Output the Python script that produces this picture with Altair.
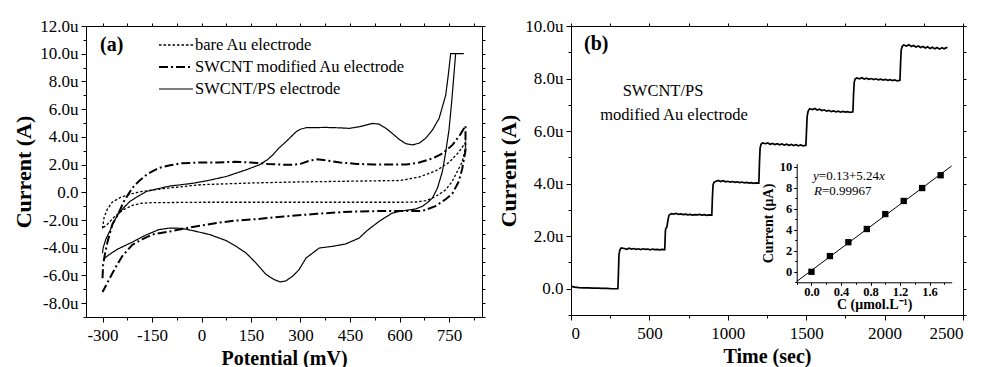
import altair as alt
import pandas as pd

FONT = "Liberation Serif"

# ---------------- Panel (a): cyclic voltammograms ----------------
series_names = ["bare Au electrode", "SWCNT modified Au electrode", "SWCNT/PS electrode"]

bare_e = [-300, -295, -285, -270, -244, -210, -184, -103, 0, 150, 300, 450, 600, 660, 710, 750, 780, 800,
          800, 790, 775, 760, 740, 720, 700, 680, 650, 600, 300, 0, -150, -184, -210, -240, -265, -285, -300]
bare_i = [-2.6, -1.8, -1.2, -0.7, -0.35, -0.1, 0.05, 0.3, 0.55, 0.67, 0.75, 0.8, 0.85, 1.1, 1.55, 2.15, 2.9, 3.6,
          3.2, 2.2, 1.5, 0.8, 0.18, -0.15, -0.42, -0.6, -0.7, -0.72, -0.72, -0.72, -0.75, -0.8, -0.95, -1.3, -1.8, -2.3, -2.6]

swcnt_e = [-300, -298, -293, -285, -270, -253, -235, -210, -190, -165, -130, -95, -60, 0, 50, 100, 150, 200, 240,
           270, 300, 330, 350, 380, 420, 470, 520, 580, 620, 660, 700, 730, 760, 785, 800,
           800, 790, 780, 760, 740, 709, 669, 600, 550, 450, 350, 250, 150, 100, 50, 0, -50, -100, -150,
           -180, -210, -240, -260, -280, -300]
swcnt_i = [-6.2, -5.2, -4.5, -3.6, -2.3, -1.6, -0.65, 0.3, 0.8, 1.3, 1.75, 1.95, 2.1, 2.15, 2.15, 2.2, 2.15, 2.05, 2.0,
           1.98, 2.05, 2.3, 2.38, 2.3, 2.15, 2.05, 2.0, 2.0, 2.0, 2.15, 2.45, 2.8, 3.4, 4.2, 4.8,
           3.0, 1.7, 0.8, -0.1, -0.5, -1.0, -1.35, -1.35, -1.35, -1.4, -1.55, -1.75, -1.97, -2.05, -2.2, -2.4, -2.6, -2.85, -3.05,
           -3.4, -3.8, -4.6, -5.4, -6.3, -7.2]

ps_e = [-300, -298, -290, -278, -265, -253, -235, -217, -190, -167, -126, -96, -26, 20, 75, 135, 175, 200, 216, 235,
        256, 275, 287, 300, 317, 377, 420, 448, 478, 518, 538, 560, 578, 600, 620, 640, 660, 679, 700, 720, 740,
        748, 755, 795,
        770, 765, 758, 750, 740, 730, 715, 700, 689, 670, 650, 606, 578, 538, 500, 478, 437, 397, 357, 317, 295, 276,
        255, 239, 220, 196, 165, 135, 105, 75, 25, -26, -60, -96, -130, -170, -210, -254, -280, -296]
ps_i = [-4.4, -4.0, -3.4, -2.8, -2.1, -1.6, -1.1, -0.66, -0.25, 0.06, 0.29, 0.45, 0.65, 0.85, 1.14, 1.62, 1.98, 2.35,
        2.7, 3.2, 3.65, 4.1, 4.37, 4.55, 4.66, 4.68, 4.65, 4.61, 4.73, 4.97, 4.92, 4.6, 4.25, 3.8, 3.5, 3.42, 3.55,
        3.89, 4.5, 5.33, 7.0, 8.5, 10.0, 10.0,
        10.0, 8.5, 6.5, 4.5, 2.9, 1.5, 0.3, -0.4, -0.66, -1.0, -1.2, -1.35, -1.5, -2.1, -2.8, -3.3, -3.73, -3.9, -4.02,
        -4.74, -5.6, -6.06, -6.4, -6.47, -6.3, -5.94, -5.1, -4.38, -3.9, -3.49, -3.05, -2.77, -2.6, -2.58, -2.7,
        -3.1, -3.6, -4.1, -4.5, -4.8]

rows = []
for name, es, cs in zip(series_names, [bare_e, swcnt_e, ps_e], [bare_i, swcnt_i, ps_i]):
    for k, (e, c) in enumerate(zip(es, cs)):
        rows.append({"series": name, "k": k, "E": e, "I": c})
cv = pd.DataFrame(rows)

a_x_major = [-300, -150, 0, 150, 300, 450, 600, 750]
a_x_minor = [-225, -75, 75, 225, 375, 525, 675, 825]
a_x_all = [-300, -225, -150, -75, 0, 75, 150, 225, 300, 375, 450, 525, 600, 675, 750, 825]
a_y_major = [-8, -6, -4, -2, 0, 2, 4, 6, 8, 10, 12]
a_y_minor = [-9, -7, -5, -3, -1, 1, 3, 5, 7, 9, 11]
a_y_all = list(range(-9, 13))

# ---------------- Panel (b): amperometric response ----------------
t_sec = [0, 10, 25, 50, 80, 110, 140, 170, 200, 230, 260, 290, 299,
         302, 306, 312, 320, 340, 355, 370, 385, 400, 415, 430, 445, 460, 475, 490, 505, 520, 535, 550, 565, 580, 598,
         602, 605, 612, 618, 625, 640, 655, 670, 685, 700, 715, 730, 745, 760, 775, 790, 805, 820, 835, 850, 865, 880, 898,
         902, 906, 912, 922, 940, 955, 970, 985, 1000, 1015, 1030, 1045, 1060, 1075, 1090, 1105, 1120, 1135, 1150, 1165, 1180, 1198,
         1202, 1206, 1212, 1222, 1240, 1255, 1270, 1285, 1300, 1315, 1330, 1345, 1360, 1375, 1390, 1405, 1420, 1435, 1450, 1465, 1480, 1498,
         1502, 1506, 1512, 1522, 1540, 1555, 1570, 1585, 1600, 1615, 1630, 1645, 1660, 1675, 1690, 1705, 1720, 1735, 1750, 1765, 1780, 1798,
         1802, 1806, 1812, 1822, 1840, 1855, 1870, 1885, 1900, 1915, 1930, 1945, 1960, 1975, 1990, 2005, 2020, 2035, 2050, 2065, 2080, 2098,
         2102, 2106, 2112, 2122, 2140, 2155, 2170, 2185, 2200, 2215, 2230, 2245, 2260, 2275, 2290, 2305, 2320, 2335, 2350, 2365, 2380, 2395, 2400]
amp_i = [0.10, 0.08, 0.06, 0.04, 0.03, 0.03, 0.02, 0.02, 0.01, 0.01, 0.0, 0.0, 0.0,
         0.5, 1.3, 1.48, 1.55, 1.53, 1.50, 1.54, 1.51, 1.53, 1.50, 1.52, 1.49, 1.52, 1.50, 1.51, 1.48, 1.51, 1.49, 1.50, 1.48, 1.50, 1.49,
         2.2, 2.3, 2.35, 2.6, 2.8, 2.86, 2.84, 2.87, 2.83, 2.85, 2.82, 2.84, 2.81, 2.83, 2.80, 2.82, 2.81, 2.83, 2.80, 2.82, 2.79, 2.81, 2.80,
         3.5, 3.95, 4.05, 4.08, 4.12, 4.08, 4.11, 4.07, 4.09, 4.06, 4.08, 4.05, 4.07, 4.04, 4.06, 4.03, 4.05, 4.02, 4.04, 4.01, 4.03, 4.02,
         4.8, 5.35, 5.5, 5.55, 5.52, 5.55, 5.50, 5.53, 5.49, 5.52, 5.48, 5.51, 5.47, 5.50, 5.46, 5.49, 5.45, 5.48, 5.44, 5.47, 5.44, 5.46,
         6.0, 6.55, 6.75, 6.85, 6.82, 6.86, 6.80, 6.83, 6.78, 6.81, 6.76, 6.79, 6.74, 6.77, 6.73, 6.76, 6.72, 6.75, 6.72, 6.74, 6.71, 6.73,
         7.4, 7.85, 7.98, 8.02, 7.99, 8.03, 7.98, 8.01, 7.97, 8.00, 7.96, 7.99, 7.95, 7.98, 7.94, 7.97, 7.93, 7.96, 7.92, 7.95, 7.91, 7.93,
         8.6, 9.1, 9.22, 9.28, 9.24, 9.29, 9.22, 9.26, 9.20, 9.24, 9.18, 9.22, 9.16, 9.21, 9.14, 9.19, 9.13, 9.18, 9.12, 9.17, 9.13, 9.18, 9.16]
amp = pd.DataFrame({"t": t_sec, "I": amp_i})

b_x_major = [0, 500, 1000, 1500, 2000, 2500]
b_x_minor = [250, 750, 1250, 1750, 2250]
b_x_all = [0, 250, 500, 750, 1000, 1250, 1500, 1750, 2000, 2250, 2500]
b_y_major = [0, 2, 4, 6, 8, 10]
b_y_minor = [-1, 1, 3, 5, 7, 9]
b_y_all = list(range(-1, 11))

# inset: calibration
conc = [0.0, 0.25, 0.5, 0.75, 1.0, 1.25, 1.5, 1.75]
cal_i = [0.0, 1.5, 2.82, 4.08, 5.5, 6.75, 7.98, 9.2]
fit_c = [-0.2, 1.9]
fit_i = [-0.92, 10.09]
ins_x_major = [0.0, 0.4, 0.8, 1.2, 1.6]
ins_x_minor = [-0.2, 0.2, 0.6, 1.0, 1.4, 1.8]
ins_y_major = [0, 2, 4, 6, 8, 10]
ins_y_minor = [-1, 1, 3, 5, 7, 9]

cal = pd.DataFrame({"c": conc, "I": cal_i})
fit = pd.DataFrame({"c": fit_c, "I": fit_i})

# ---------------- geometry ----------------
A_W, A_H = 396, 291
B_W, B_H = 392, 289
A_XDOM, A_YDOM = [-350, 850], [-9, 12]
B_XDOM, B_YDOM = [0, 2500], [-1, 10]
INS_XDOM, INS_YDOM = [-0.2, 1.9], [-1, 10.3]
INS_XR, INS_YR = [225.7, 380.7], [256.3, 137.7]
INS_XOFF = -(B_H - INS_YR[0])
INS_YOFF = -INS_XR[0]

UEXPR = "datum.value == 0 ? '0.0' : (datum.value < 0 ? '-' : '') + format(abs(datum.value), '.1f') + 'u'"


def sc(dom, rng=None):
    if rng is None:
        return alt.Scale(domain=dom, nice=False, zero=False)
    return alt.Scale(domain=dom, range=rng, nice=False, zero=False)


def ghost(df, xf, yf, xdom, ydom, xaxis, yaxis, xr=None, yr=None):
    return alt.Chart(df).mark_point(opacity=0).encode(
        x=alt.X(xf, type="quantitative", scale=sc(xdom, xr), axis=xaxis),
        y=alt.Y(yf, type="quantitative", scale=sc(ydom, yr), axis=yaxis),
    )


def tick_axis(orient, values, size, domain=False, offset=0):
    return alt.Axis(orient=orient, values=values, labels=False, tickSize=size, domain=domain, offset=offset,
                    title=None, grid=False, tickColor="black", domainColor="black")


def text_layer(txt, x, y, size, weight="normal", style="normal", align="left"):
    return alt.Chart(alt.Data(values=[{}])).mark_text(
        text=txt, font=FONT, fontSize=size, fontWeight=weight, fontStyle=style,
        align=align, baseline="middle", color="black"
    ).encode(x=alt.value(x), y=alt.value(y))


def main_axis(orient, values, title, fmt=None, expr=None, tsize=20, tpad=5, lpad=4):
    kw = dict(orient=orient, values=values, tickSize=5, labelFontSize=17, labelFont=FONT, labelPadding=lpad,
              title=title, titleFontSize=tsize, titleFont=FONT, titleFontWeight="bold", titlePadding=tpad,
              grid=False, domainColor="black", tickColor="black", labelColor="black", titleColor="black")
    if fmt:
        kw["format"] = fmt
    if expr:
        kw["labelExpr"] = expr
    return alt.Axis(**kw)


leg = alt.Legend(orient="none", legendX=72, legendY=8, title=None, symbolType="stroke",
                 symbolSize=1156, clipHeight=22, rowPadding=0, labelOffset=1, padding=0, labelLimit=0,
                 labelFont=FONT, labelFontSize=16.5, labelColor="black", symbolStrokeColor="black")

cv_lines = alt.Chart(cv).mark_line(color="black").encode(
    x=alt.X("E:Q", scale=sc(A_XDOM),
            axis=main_axis("bottom", a_x_major, "Potential (mV)",
                           expr="(datum.value < 0 ? '-' : '') + abs(datum.value)", tpad=5, lpad=5)),
    y=alt.Y("I:Q", scale=sc(A_YDOM),
            axis=main_axis("left", a_y_major, "Current (A)", expr=UEXPR, tsize=22, tpad=4, lpad=3)),
    order="k:Q",
    strokeDash=alt.StrokeDash("series:N", scale=alt.Scale(type="ordinal", domain=series_names,
                                                           range=[[2.5, 2], [9, 3, 2, 3], [1, 0]]), legend=leg),
    strokeWidth=alt.StrokeWidth("series:N", scale=alt.Scale(type="ordinal", domain=series_names,
                                                             range=[1.3, 2.0, 1.2]), legend=leg),
)

panel_a = alt.layer(
    cv_lines,
    ghost(cv, "E", "I", A_XDOM, A_YDOM, tick_axis("bottom", a_x_minor, 3), tick_axis("left", a_y_minor, 3)),
    ghost(cv, "E", "I", A_XDOM, A_YDOM, tick_axis("top", a_x_all, 3, True), tick_axis("right", a_y_all, 3, True)),
    text_layer("(a)", 14, 19, 20, weight="bold"),
).resolve_scale(x="independent", y="independent").properties(width=A_W, height=A_H)

amp_line = alt.Chart(amp).mark_line(color="black", strokeWidth=1.7).encode(
    x=alt.X("t:Q", scale=sc(B_XDOM), axis=main_axis("bottom", b_x_major, "Time (sec)", fmt="d", tpad=5, lpad=5)),
    y=alt.Y("I:Q", scale=sc(B_YDOM),
            axis=main_axis("left", b_y_major, "Current (A)", expr=UEXPR, tsize=22, tpad=4, lpad=3)),
)

ins_axis_x = alt.Axis(orient="bottom", offset=INS_XOFF, values=ins_x_major, tickSize=3, labelFontSize=12.5,
                      labelFont=FONT, labelFontWeight="bold", format=".1f", labelPadding=0,
                      title="C (\u03bcmol.L\u207b\u00b9)", titleFontSize=14, titleFont=FONT, titleFontWeight="bold",
                      titlePadding=0, grid=False, domainColor="black", tickColor="black", labelColor="black",
                      titleColor="black")
ins_axis_y = alt.Axis(orient="left", offset=INS_YOFF, values=ins_y_major, tickSize=3, labelFontSize=12.5,
                      labelFont=FONT, labelFontWeight="bold", format="d", labelPadding=2,
                      title="Current (\u03bcA)", titleFontSize=14, titleFont=FONT, titleFontWeight="bold",
                      titlePadding=4, grid=False, domainColor="black", tickColor="black", labelColor="black",
                      titleColor="black")

ins_fit = alt.Chart(fit).mark_line(color="black", strokeWidth=1).encode(
    x=alt.X("c:Q", scale=sc(INS_XDOM, INS_XR), axis=None),
    y=alt.Y("I:Q", scale=sc(INS_YDOM, INS_YR), axis=None),
)
ins_pts = alt.Chart(cal).mark_square(color="black", size=40, opacity=1).encode(
    x=alt.X("c:Q", scale=sc(INS_XDOM, INS_XR), axis=ins_axis_x),
    y=alt.Y("I:Q", scale=sc(INS_YDOM, INS_YR), axis=ins_axis_y),
)
ins_minor = ghost(cal, "c", "I", INS_XDOM, INS_YDOM,
                  tick_axis("bottom", ins_x_minor, 2, offset=INS_XOFF),
                  tick_axis("left", ins_y_minor, 2, offset=INS_YOFF),
                  INS_XR, INS_YR)

panel_b = alt.layer(
    amp_line,
    ghost(amp, "t", "I", B_XDOM, B_YDOM, tick_axis("bottom", b_x_minor, 3), tick_axis("left", b_y_minor, 3)),
    ghost(amp, "t", "I", B_XDOM, B_YDOM, tick_axis("top", b_x_all, 3, True), tick_axis("right", b_y_all, 3, True)),
    ins_fit, ins_pts, ins_minor,
    text_layer("(b)", 13, 18, 20, weight="bold"),
    text_layer("SWCNT/PS", 92, 65, 16.5, align="center"),
    text_layer("modified Au electrode", 103, 89, 16.5, align="center"),
    text_layer("y", 242, 150, 13, style="italic"),
    text_layer("=0.13+5.24", 247.8, 150, 13),
    text_layer("x", 308, 150, 13, style="italic"),
    text_layer("R", 243, 165, 13, style="italic"),
    text_layer("=0.99967", 251, 165, 13),
).resolve_scale(x="independent", y="independent").properties(width=B_W, height=B_H)

chart = alt.hconcat(panel_a, panel_b, spacing=11).properties(
    padding={"left": 4, "top": 8, "right": 2, "bottom": 0}
).configure_view(stroke=None).configure(background="white")

chart.save("out.html", embed_options={"renderer": "svg", "actions": False})
